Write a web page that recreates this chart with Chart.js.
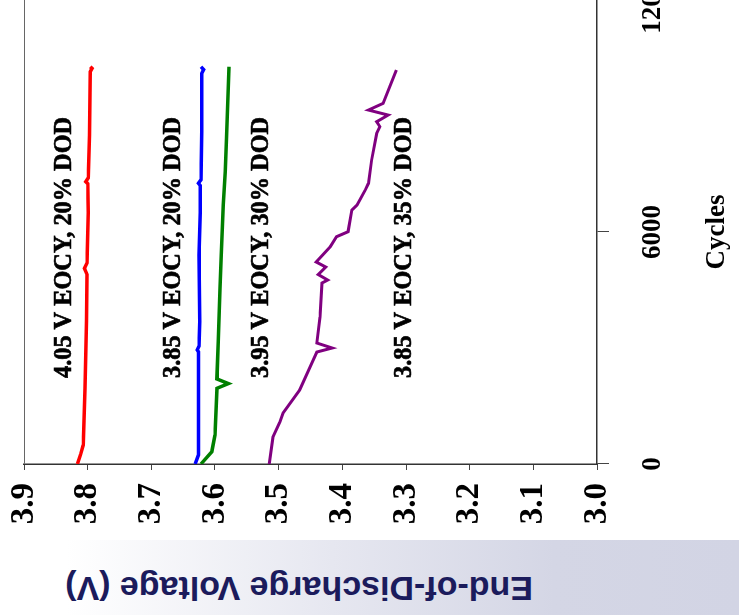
<!DOCTYPE html>
<html>
<head>
<meta charset="utf-8">
<script src="https://cdn.jsdelivr.net/npm/chart.js@4.4.1/dist/chart.umd.min.js"></script>
<style>
  html, body { margin: 0; padding: 0; background: #fff; }
  body { width: 739px; height: 615px; overflow: hidden; position: relative; }
  #rot { position: absolute; left: 0; top: 534px; width: 600px; height: 739px;
         transform: rotate(-90deg); transform-origin: 0 0; }
  #band { position: absolute; left: 0; top: 540px; width: 739px; height: 75px;
          background: linear-gradient(to right, #ffffff 0%, #ffffff 9%, #e6e7f0 45%, #d4d6e5 75%, #d2d4e4 100%); }
  #ytitle { position: absolute; left: 66px; top: 568px; width: 467px; height: 40px; line-height: 40px;
            text-align: center; white-space: nowrap; color: #1b1b5c;
            font: bold 34px "Liberation Sans", Arial, sans-serif; transform: rotate(180deg); }
</style>
</head>
<body>
<div id="band"></div>
<div id="ytitle">End-of-Discharge Voltage (V)</div>
<div id="rot"><canvas id="chart" width="600" height="739"></canvas></div>
<script>
// Tick labels
const cycleTicks = [0, 6000, 12000];
const voltTicks = [3.0, 3.1, 3.2, 3.3, 3.4, 3.5, 3.6, 3.7, 3.8, 3.9];

// 4.05 V EOCY, 20% DOD
const cyclesA = [0, 250, 491, 1957, 2819, 3700, 4900, 5060, 5200, 6500, 7250, 7300, 7400, 8500, 10145, 10230, 10274];
const voltsA = [3.816, 3.811, 3.807, 3.804, 3.803, 3.802, 3.801, 3.805, 3.801, 3.799, 3.800, 3.803, 3.799, 3.797, 3.796, 3.793, 3.796];

// 3.85 V EOCY, 20% DOD
const cyclesB = [0, 233, 1966, 2900, 2950, 3050, 3680, 5405, 6500, 7200, 7260, 7350, 8600, 10100, 10200, 10274];
const voltsB = [3.631, 3.626, 3.626, 3.626, 3.628, 3.625, 3.624, 3.625, 3.623, 3.623, 3.626, 3.622, 3.621, 3.621, 3.618, 3.622];

// 3.95 V EOCY, 30% DOD
const cyclesC = [0, 318, 750, 1957, 2080, 2200, 3163, 4543, 5405, 6698, 7559, 8422, 9716, 10274];
const voltsC = [3.622, 3.605, 3.600, 3.597, 3.579, 3.597, 3.595, 3.592, 3.590, 3.587, 3.584, 3.582, 3.579, 3.578];

// 3.85 V EOCY, 35% DOD
const cyclesD = [0, 698, 1086, 1319, 1914, 2612, 2896, 3000, 3129, 3801, 4681, 4758, 4900, 5094, 5224,
                 5620, 5879, 6008, 6568, 6698, 7086, 7259, 7861, 8552, 8723, 8852, 9025, 9154, 9327, 10189];
const voltsD = [3.515, 3.509, 3.498, 3.493, 3.467, 3.448, 3.440, 3.416, 3.440, 3.435, 3.432, 3.423, 3.438, 3.426, 3.441,
                3.419, 3.409, 3.391, 3.385, 3.377, 3.364, 3.359, 3.354, 3.346, 3.341, 3.346, 3.328, 3.359, 3.336, 3.315];

// Series names and where their labels sit
const seriesNames = ['4.05 V EOCY, 20% DOD', '3.85 V EOCY, 20% DOD', '3.95 V EOCY, 30% DOD', '3.85 V EOCY, 35% DOD'];
const labelCycles = [2224, 2224, 2224, 2224];
const labelVolts = [3.836, 3.665, 3.528, 3.303];

const colors = ['#ff0000', '#0000ff', '#008000', '#800080'];
const serifFont = '"Liberation Serif", "Times New Roman", serif';

function toPoints(xs, ys) {
    return xs.map((x, i) => ({ x: x, y: ys[i] }));
}

const seriesLabels = {
    id: 'seriesLabels',
    afterDatasetsDraw(chart) {
        const ctx = chart.ctx;
        const xs = chart.scales.x;
        const ys = chart.scales.y;
        ctx.save();
        ctx.fillStyle = '#000';
        ctx.strokeStyle = '#000';
        ctx.lineWidth = 0.7;
        ctx.font = 'bold 26px ' + serifFont;
        ctx.textAlign = 'left';
        ctx.textBaseline = 'middle';
        seriesNames.forEach((name, i) => {
            ctx.save();
            ctx.translate(xs.getPixelForValue(labelCycles[i]), ys.getPixelForValue(labelVolts[i]));
            ctx.scale(0.935, 1);
            ctx.fillText(name, 0, 0);
            ctx.strokeText(name, 0, 0);
            ctx.restore();
        });
        ctx.restore();
    }
};

new Chart(document.getElementById('chart'), {
    type: 'line',
    data: {
        datasets: [
            { data: toPoints(cyclesA, voltsA), borderColor: colors[0] },
            { data: toPoints(cyclesB, voltsB), borderColor: colors[1] },
            { data: toPoints(cyclesC, voltsC), borderColor: colors[2] },
            { data: toPoints(cyclesD, voltsD), borderColor: colors[3], borderWidth: 3 },
        ],
    },
    options: {
        responsive: false,
        animation: false,
        devicePixelRatio: 1,
        layout: { padding: { top: 24, right: 66, left: 0, bottom: 0 } },
        elements: {
            point: { radius: 0 },
            line: { borderWidth: 3.5, tension: 0 },
        },
        plugins: { legend: { display: false }, tooltip: { enabled: false } },
        scales: {
            x: {
                type: 'linear',
                min: 0,
                max: 12000,
                afterBuildTicks: (scale) => { scale.ticks = cycleTicks.map(v => ({ value: v })); },
                afterFit: (scale) => {
                    scale.height = 142;
                    scale.paddingLeft = 0;
                    scale.paddingRight = 0;
                },
                border: { display: true, color: '#333', width: 1.5 },
                grid: { drawOnChartArea: false, tickLength: 12, tickColor: '#444' },
                ticks: {
                    padding: 28,
                    color: '#000',
                    maxRotation: 0,
                    callback: (v) => String(v),
                    font: { family: serifFont, size: 27, weight: 'bold' },
                },
                title: {
                    display: true,
                    text: 'Cycles',
                    color: '#000',
                    padding: { top: 0, bottom: 6 },
                    font: { family: serifFont, size: 27, weight: 'bold' },
                },
            },
            y: {
                min: 3.0,
                max: 3.9,
                afterBuildTicks: (scale) => { scale.ticks = voltTicks.map(v => ({ value: v })); },
                afterFit: (scale) => {
                    scale.width = 70;
                    scale.paddingTop = 0;
                    scale.paddingBottom = 0;
                },
                border: { display: true, color: '#333', width: 1.5 },
                grid: {
                    tickLength: 6,
                    tickColor: '#444',
                    color: (c) => (c.tick && c.tick.value === 3.9 ? '#666' : 'rgba(0,0,0,0)'),
                },
                ticks: {
                    padding: 13,
                    color: '#000',
                    callback: (v) => Number(v).toFixed(1),
                    font: { family: serifFont, size: 33, weight: 'bold' },
                },
            },
        },
    },
    plugins: [seriesLabels],
});
</script>
</body>
</html>
